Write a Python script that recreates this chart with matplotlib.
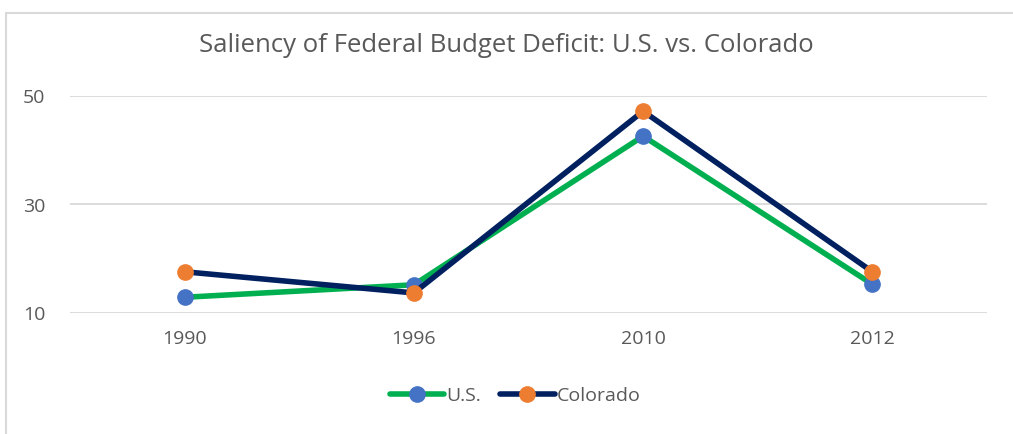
import matplotlib
matplotlib.use('Agg')
from matplotlib import pyplot as plt
from matplotlib.patches import Rectangle

years = ['1990', '1996', '2010', '2012']
us = [12.9, 15.2, 42.6, 15.3]
colorado = [17.6, 13.7, 47.2, 17.6]
y_ticks = [10, 30, 50]

plt.rcParams['font.family'] = ['Open Sans', 'DejaVu Sans']
text_col = '#595959'

fig = plt.figure(figsize=(10.13, 4.34), dpi=100)
ax = fig.add_axes([70 / 1013, 1 - 313 / 434, 917 / 1013, 217 / 434])

x = range(len(years))
ax.plot(x, us, color='#00B050', lw=4, marker='o', ms=11,
        mfc='#4472C4', mec='#4472C4', label='U.S.', solid_capstyle='round')
ax.plot(x, colorado, color='#002060', lw=4, marker='o', ms=11,
        mfc='#ED7D31', mec='#ED7D31', label='Colorado', solid_capstyle='round')

ax.set_xlim(-0.5, len(years) - 0.5)
ax.set_ylim(10, 50)
ax.set_yticks(y_ticks)
ax.set_xticks(list(x))
ax.set_xticklabels(years)
ax.grid(axis='y', color='#D9D9D9', lw=1.3)
ax.set_axisbelow(True)
for s in ax.spines.values():
    s.set_visible(False)
ax.tick_params(length=0, labelsize=14, colors=text_col)
ax.tick_params(axis='x', pad=12)
ax.tick_params(axis='y', pad=34)
for lab in ax.get_yticklabels():
    lab.set_horizontalalignment('left')

fig.text(0.5, 1 - 45 / 434, 'Saliency of Federal Budget Deficit: U.S. vs. Colorado',
         ha='center', va='center', fontsize=18.5, color=text_col)

leg = fig.legend(loc='center', bbox_to_anchor=(515 / 1013, 1 - 396 / 434), ncol=2,
                 frameon=False, fontsize=14, handlelength=2.8, columnspacing=1.0,
                 handletextpad=0.1)
for t in leg.get_texts():
    t.set_color(text_col)

fig.patches.append(Rectangle((6 / 1013, -0.1), 1.1, 1 - 13 / 434 + 0.1,
                             transform=fig.transFigure, fill=False,
                             edgecolor='#D9D9D9', lw=1.5))

fig.savefig('out.png', dpi=100)
